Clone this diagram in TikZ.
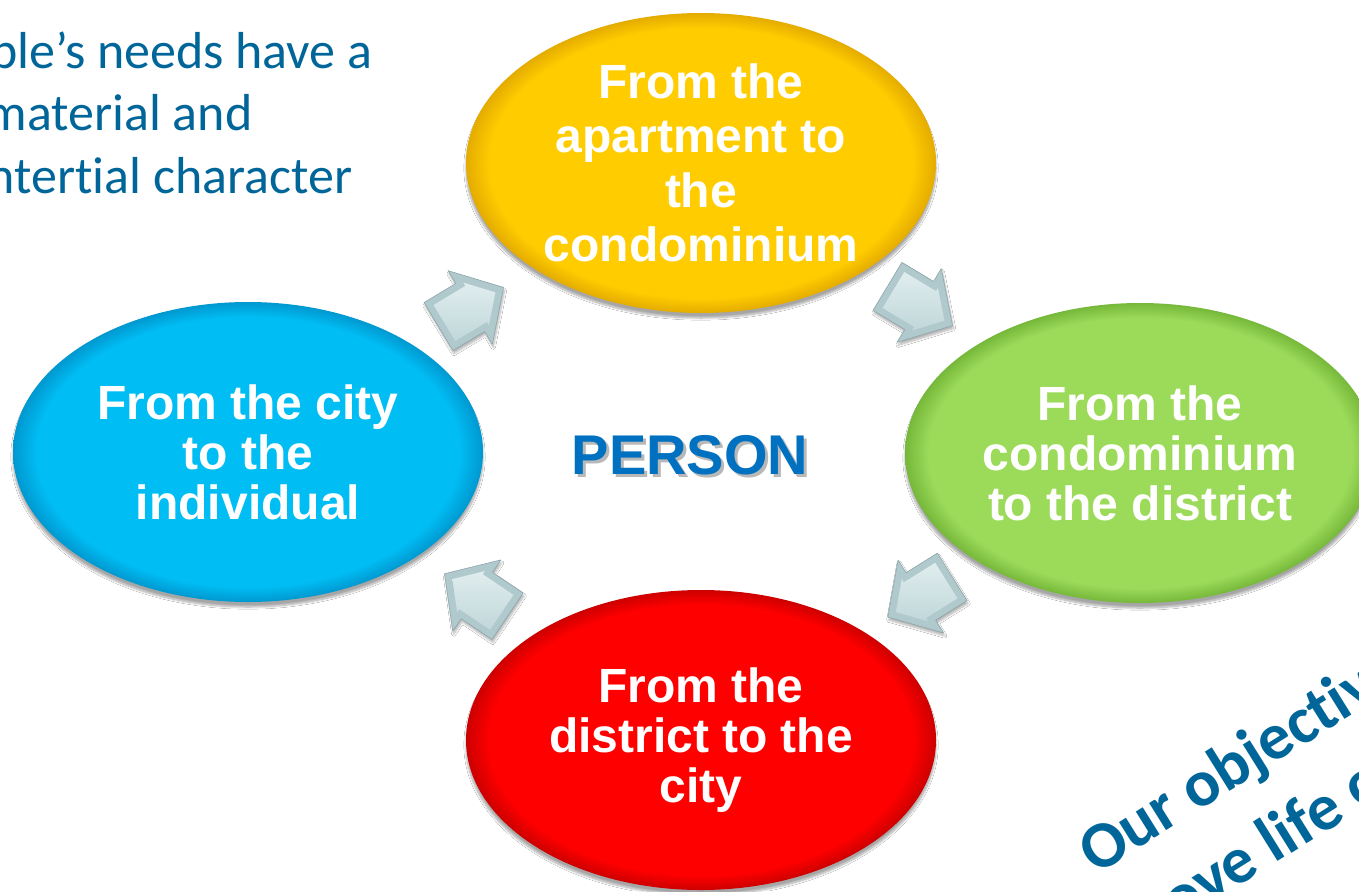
\documentclass[tikz,border=0pt]{standalone}
\usepackage{fontspec}
\setmainfont{Liberation Sans}
\newfontfamily\carlito[Ligatures=NoCommon]{Carlito}
\usetikzlibrary{shapes.geometric,shadows.blur}
\definecolor{txtblue}{RGB}{0,102,153}
\definecolor{perblue}{RGB}{0,112,192}
\definecolor{yelc}{RGB}{255,204,0}
\definecolor{yeld}{RGB}{228,172,0}
\definecolor{bluc}{RGB}{0,189,243}
\definecolor{blud}{RGB}{0,152,208}
\definecolor{grnc}{RGB}{156,218,90}
\definecolor{grnd}{RGB}{118,184,58}
\definecolor{redc}{RGB}{255,0,0}
\definecolor{redd}{RGB}{205,0,0}
\definecolor{arredge}{RGB}{176,201,205}
\definecolor{arrline}{RGB}{142,166,170}
\definecolor{arrtop}{RGB}{224,237,238}
\definecolor{arrbot}{RGB}{192,215,218}
\pgfdeclareradialshading{yelsh}{\pgfpoint{0bp}{0bp}}{color(0bp)=(yelc); color(22.5bp)=(yelc); color(25bp)=(yeld); color(50bp)=(yeld)}
\pgfdeclareradialshading{blush}{\pgfpoint{0bp}{0bp}}{color(0bp)=(bluc); color(22.5bp)=(bluc); color(25bp)=(blud); color(50bp)=(blud)}
\pgfdeclareradialshading{grnsh}{\pgfpoint{0bp}{0bp}}{color(0bp)=(grnc); color(22.5bp)=(grnc); color(25bp)=(grnd); color(50bp)=(grnd)}
\pgfdeclareradialshading{redsh}{\pgfpoint{0bp}{0bp}}{color(0bp)=(redc); color(22.5bp)=(redc); color(25bp)=(redd); color(50bp)=(redd)}
\tikzset{
  bubble/.style={ellipse, minimum width=470pt, minimum height=300pt, inner sep=0pt,
    text=white, align=center, font=\bfseries\fontsize{48}{50}\selectfont,
    blur shadow={shadow xshift=0pt, shadow yshift=-5pt, shadow blur steps=10, shadow opacity=35}},
  arrouter/.style={fill=arredge, draw=arrline, line width=0.6pt, line join=round,
    blur shadow={shadow xshift=1pt, shadow yshift=-3pt, shadow blur steps=6, shadow opacity=30}},
  arrinner/.style={top color=arrtop, bottom color=arrbot},
  lefttext/.style={anchor=base east, text=txtblue, font=\carlito\fontsize{52}{60}\selectfont},
  objtext/.style={anchor=base west, rotate=32, text=txtblue, font=\carlito\bfseries\fontsize{66}{70}\selectfont},
}
\newcommand\chunkyarrow[2]{%
  \begin{scope}[shift={#1}, rotate=#2]
    \path[arrouter] (-38,-28) -- (-1,-28) -- (-1,-43) -- (38,0) -- (-1,43) -- (-1,28) -- (-38,28) -- cycle;
    \path[arrinner] (-31,-21) -- (6,-21) -- (6,-24.8) -- (28.5,0) -- (6,24.8) -- (6,21) -- (-31,21) -- cycle;
  \end{scope}}
\begin{document}
\begin{tikzpicture}[x=1pt,y=-1pt]
  \useasboundingbox (0,0) rectangle (1359,891);
  \clip (0,0) rectangle (1359,891);
  \fill[white] (0,0) rectangle (1359,891);
  % ellipses
  \node[bubble, shading=yelsh, font=\bfseries\fontsize{48}{54.5}\selectfont] (apt) at (701,163) {From the\\apartment to\\the\\condominium};
  \node[bubble, shading=grnsh] (cond) at (1140,453) {From the\\condominium\\to the district};
  \node[bubble, shading=redsh] (dist) at (701,740) {From the\\district to the\\city};
  \node[bubble, shading=blush] (city) at (248,452) {From the city\\to the\\individual};
  % arrows
  \chunkyarrow{(471,307)}{31}
  \chunkyarrow{(920,306)}{-31}
  \chunkyarrow{(920,597)}{-148}
  \chunkyarrow{(476,595)}{146}
  % centre
  \node[text=black!55, opacity=0.5, font=\bfseries\fontsize{56}{60}\selectfont] (personshadow) at (693,458) {PERSON};
  \node[text=perblue, font=\bfseries\fontsize{56}{60}\selectfont] (person) at (690,455) {PERSON};
  % top-left text
  \node[lefttext] (l1) at (376,68) {ple’s needs have a};
  \node[lefttext] (l2) at (256,130) {material and};
  \node[lefttext] (l3) at (356,193) {ntertial character};
  % bottom-right rotated text
  \node[objtext] (o1) at (1093,877) {Our objectiv};
  \node[objtext] (o2) at (1175,926) {ove life o};
\end{tikzpicture}
\end{document}
